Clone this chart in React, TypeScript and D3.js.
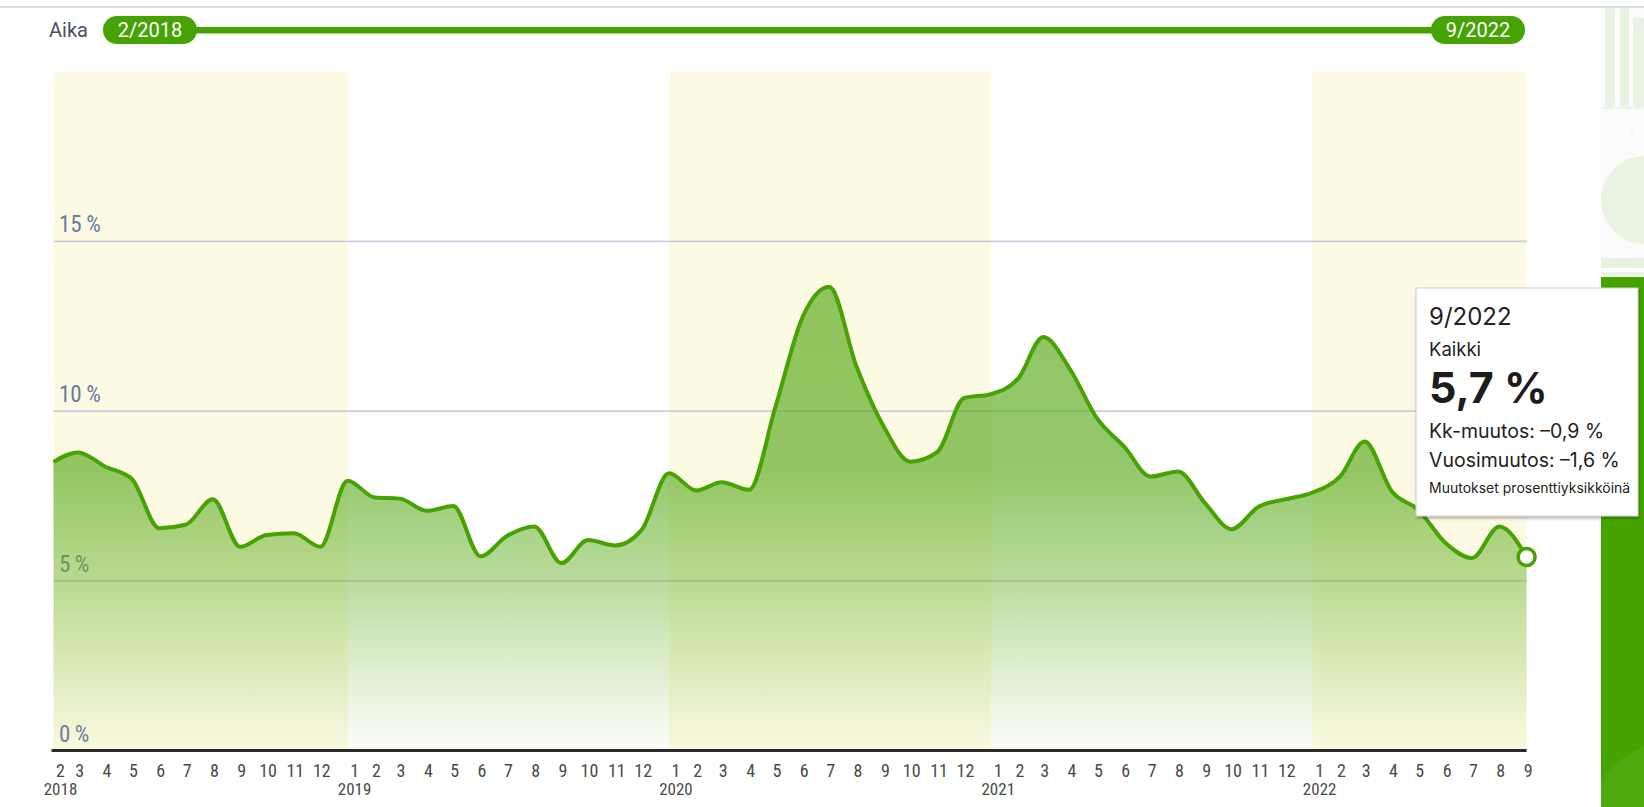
import React from 'react';
import * as d3 from 'd3';

// ---- data ----
const START_YEAR = 2018;
const START_MONTH = 1; // February (0-based)
const values: number[] = [
  // 2018 (2-12)
  8.5, 8.78, 8.36, 8.0, 6.55, 6.65, 7.4, 6.0, 6.35, 6.4, 6.0,
  // 2019
  7.95, 7.45, 7.42, 7.06, 7.2, 5.72, 6.32, 6.6, 5.52, 6.2, 6.04, 6.5,
  // 2020
  8.17, 7.66, 7.9, 7.68, 10.13, 12.78, 13.66, 11.31, 9.54, 8.51, 8.8, 10.38,
  // 2021
  10.5, 10.97, 12.18, 11.21, 9.79, 8.95, 8.07, 8.22, 7.28, 6.52, 7.19, 7.4,
  // 2022 (1-9)
  7.6, 8.07, 9.1, 7.63, 7.09, 6.11, 5.67, 6.6, 5.7,
];
const yTicks = [0, 5, 10, 15];
const yMax = 20;
const shadedYears = [2018, 2020, 2022];
const sliderLabels = ['2/2018', '9/2022'];
const axisTitle = 'Aika';
const tipDate = '9/2022';
const tipSeries = 'Kaikki';
const tipValue = '5,7 %';
const tipLines = ['Kk-muutos: \u20130,9 %', 'Vuosimuutos: \u20131,6 %'];
const tipNote = 'Muutokset prosenttiyksikköinä';

// ---- layout ----
const W = 1644;
const H = 807;
const plotL = 53.5;
const plotR = 1526.6;
const plotB = 750.5;
const plotT = 71.6;
const GREEN = '#46a303';
const narrow = "'Liberation Sans Narrow','Roboto Condensed','Arial Narrow','DejaVu Sans Condensed',sans-serif";
const roboto = "Roboto,'Noto Sans',sans-serif";
const tipFont = "Inter,'Noto Sans',sans-serif";

const dates = values.map((_, i) => new Date(START_YEAR, START_MONTH + i, 1));

export default function App() {
  const x = d3.scaleTime().domain([dates[0], dates[dates.length - 1]]).range([plotL, plotR]);
  const y = d3.scaleLinear().domain([0, yMax]).range([plotB, plotT]);
  const pts: [Date, number][] = dates.map((d, i) => [d, values[i]]);
  const line = d3.line<[Date, number]>().x(d => x(d[0])).y(d => y(d[1])).curve(d3.curveMonotoneX);
  const area = d3.area<[Date, number]>().x(d => x(d[0])).y0(y(0)).y1(d => y(d[1])).curve(d3.curveMonotoneX);
  const maxV = d3.max(values) as number;
  const last = pts[pts.length - 1];

  React.useEffect(() => {
    document.body.style.margin = '0';
    document.body.style.overflow = 'hidden';
  }, []);

  return (
    <svg width={W} height={H} style={{ position: 'absolute', left: 0, top: 0, background: '#fff' }}>
      <defs>
        <linearGradient id="areaGrad" gradientUnits="userSpaceOnUse" x1={0} x2={0} y1={y(maxV)} y2={y(0)}>
          <stop offset="0" stopColor="#5aaa1e" stopOpacity={0.68} />
          <stop offset="0.4" stopColor="#5aaa1e" stopOpacity={0.65} />
          <stop offset="0.65" stopColor="#6ab52e" stopOpacity={0.45} />
          <stop offset="0.85" stopColor="#7cbd3e" stopOpacity={0.22} />
          <stop offset="1" stopColor="#8cc450" stopOpacity={0.03} />
        </linearGradient>
        <filter id="tipShadow" x="-10%" y="-10%" width="130%" height="130%">
          <feDropShadow dx="1" dy="2" stdDeviation="1.5" floodColor="#000" floodOpacity="0.3" />
        </filter>
        <clipPath id="barClip">
          <rect x={1601} y={277} width={43} height={530} />
        </clipPath>
      </defs>

      {/* top rule */}
      <rect x={0} y={6} width={W} height={2} fill="#dddddd" />

      {/* right decoration */}
      <g>
        <rect x={1601} y={8} width={43} height={250} fill="#fbfbfb" />
        <rect x={1605} y={8} width={10} height={99} fill="#e9f3e3" />
        <rect x={1620} y={8} width={9} height={99} fill="#e9f3e3" />
        <rect x={1633} y={18} width={11} height={89} fill="#e9f3e3" />
        <rect x={1601} y={107} width={43} height={2} fill="#eef5ea" />
        <line x1={1632} x2={1632} y1={123} y2={157} stroke="#e3eedc" strokeWidth={1} strokeDasharray="2,3" />
        <circle cx={1645} cy={200} r={44} fill="#e8f3e1" />
        <rect x={1601} y={258} width={43} height={10} fill="#e8f3e1" />
        <rect x={1601} y={272} width={43} height={4} fill="#e8f3e1" />
        <rect x={1601} y={277} width={43} height={530} fill="#45a300" />
        <g clipPath="url(#barClip)">
          <ellipse cx={1680} cy={830} rx={95} ry={90} fill="#4ea90f" />
        </g>
      </g>

      {/* slider */}
      <text x={49} y={37} fontFamily={roboto} fontSize={20} fill="#4b5060">{axisTitle}</text>
      <rect x={150} y={27} width={1328} height={6.5} fill={GREEN} />
      {sliderLabels.map((s, i) => {
        const px = i === 0 ? 103 : 1431;
        return (
          <g key={s}>
            <rect x={px} y={16} width={94} height={28} rx={14} fill={GREEN} />
            <text x={px + 47} y={37} textAnchor="middle" fontFamily={roboto} fontSize={20} fill="#fff">{s}</text>
          </g>
        );
      })}

      {/* year bands */}
      {shadedYears.map(yr => {
        const x0 = Math.max(plotL, x(new Date(yr, 0, 1)));
        const x1 = Math.min(plotR, x(new Date(yr + 1, 0, 1)));
        return <rect key={yr} x={x0} y={plotT} width={x1 - x0} height={plotB - plotT} fill="#fdfae4" />;
      })}

      {/* grid + y labels */}
      {yTicks.filter(t => t > 0).map(t => (
        <line key={t} x1={plotL} x2={plotR} y1={y(t)} y2={y(t)} stroke="#c8cedb" strokeWidth={1.8} />
      ))}
      {yTicks.map(t => (
        <text key={t} x={59} y={y(t) - 9} fontFamily={narrow} fontSize={23} fill="#6a7ba3">
          {t}{'\u2009'}%
        </text>
      ))}

      {/* area + line */}
      <path d={area(pts) || ''} fill="url(#areaGrad)" />
      <path d={line(pts) || ''} fill="none" stroke={GREEN} strokeWidth={4} strokeLinejoin="round" />

      {/* x axis */}
      <line x1={plotL - 2} x2={plotR} y1={plotB} y2={plotB} stroke="#2b2b2b" strokeWidth={3} />
      {dates.map((d, i) => {
        const m = d.getMonth() + 1;
        const first = i === 0 || m === 1;
        const tx = x(d) + (first ? 7 : 1.5);
        return (
          <g key={i}>
            <text x={tx} y={777} textAnchor="middle" fontFamily={narrow} fontSize={18} fill="#4a4a4a">{m}</text>
            {first && (
              <text x={tx} y={795} textAnchor="middle" fontFamily={narrow} fontSize={17} fill="#4a4a4a">{d.getFullYear()}</text>
            )}
          </g>
        );
      })}

      {/* end marker */}
      <circle cx={x(last[0])} cy={y(last[1])} r={8.5} fill="#fff" stroke={GREEN} strokeWidth={3.5} />

      {/* tooltip */}
      <g>
        <rect x={1416} y={288} width={222} height={228} fill="#fff" stroke="#cfcfcf" strokeWidth={1} filter="url(#tipShadow)" />
        <text x={1429} y={325} fontFamily={tipFont} fontSize={24} fill="#222">{tipDate}</text>
        <text x={1429} y={356} fontFamily={tipFont} fontSize={18.5} fill="#222">{tipSeries}</text>
        <text x={1429} y={403} fontFamily={tipFont} fontSize={43} fontWeight={700} fill="#1c1c1c">{tipValue}</text>
        {tipLines.map((l, i) => (
          <text key={l} x={1429} y={438 + i * 29} fontFamily={tipFont} fontSize={19.5} fill="#222">{l}</text>
        ))}
        <text x={1429} y={493} fontFamily={tipFont} fontSize={14} fill="#222">{tipNote}</text>
      </g>
    </svg>
  );
}
